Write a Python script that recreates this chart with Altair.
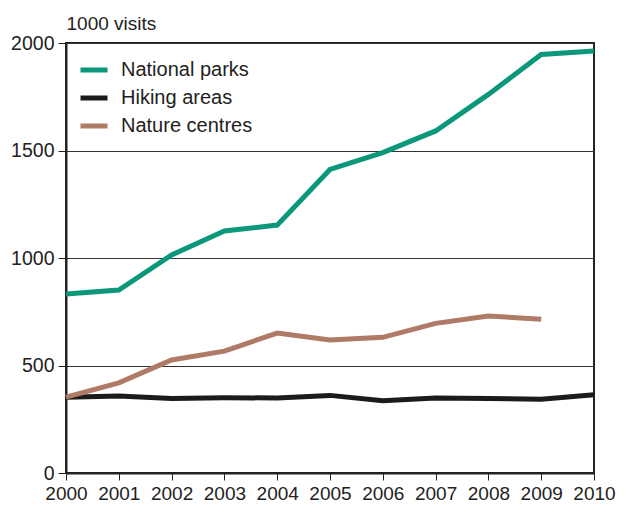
import altair as alt
import pandas as pd

years = list(range(2000, 2011))
national_parks = [833, 851, 1014, 1126, 1153, 1412, 1490, 1591, 1761, 1947, 1963]
hiking_areas = [352, 358, 346, 350, 349, 361, 336, 349, 346, 343, 364]
nature_centres = [353, 419, 526, 567, 651, 619, 631, 696, 730, 715, None]

series_names = ["National parks", "Hiking areas", "Nature centres"]
series_colors = ["#0b977a", "#1c1a1a", "#b07b66"]
y_ticks = [0, 500, 1000, 1500, 2000]

rows = []
for name, vals in zip(series_names, [national_parks, hiking_areas, nature_centres]):
    for yr, v in zip(years, vals):
        if v is not None:
            rows.append({"year": yr, "visits": v, "series": name})
df = pd.DataFrame(rows)

FONT = "Liberation Sans"

chart = alt.Chart(df).mark_line(strokeWidth=5, strokeCap="butt", strokeJoin="miter").encode(
    x=alt.X("year:Q",
            scale=alt.Scale(domain=[2000, 2010], nice=False, zero=False),
            axis=alt.Axis(values=years, format="d", grid=False, title=None,
                          labelFontSize=19, labelPadding=4, tickSize=7,
                          tickColor="#222", domainColor="#222", domainWidth=2,
                          labelColor="#222", labelFlush=False)),
    y=alt.Y("visits:Q",
            scale=alt.Scale(domain=[0, 2000], nice=False),
            axis=alt.Axis(values=y_ticks, format="d", grid=True, gridColor="#333", gridWidth=1,
                          title="1000 visits", titleAngle=0, titleAlign="left",
                          titleBaseline="alphabetic", titleX=0, titleY=-14,
                          titleFontSize=19, titleFontWeight="normal", titleColor="#222",
                          labelFontSize=19.5, labelPadding=4, tickSize=8,
                          tickColor="#222", domainColor="#222", domainWidth=2,
                          labelColor="#222")),
    color=alt.Color("series:N",
                    scale=alt.Scale(domain=series_names, range=series_colors),
                    legend=alt.Legend(title=None, orient="none", legendX=12, legendY=11,
                                      symbolType="stroke", symbolSize=729,
                                      symbolStrokeWidth=5, labelFontSize=20,
                                      labelColor="#222", labelOffset=11,
                                      rowPadding=2, padding=0)),
).properties(
    width=528,
    height=430,
    autosize=alt.AutoSizeParams(type="none"),
    padding={"left": 58, "top": 35, "right": 24, "bottom": 32},
).configure(
    font=FONT,
).configure_view(
    stroke="#222", strokeWidth=2,
)

chart.save("out.html", embed_options={"renderer": "svg", "actions": False})
